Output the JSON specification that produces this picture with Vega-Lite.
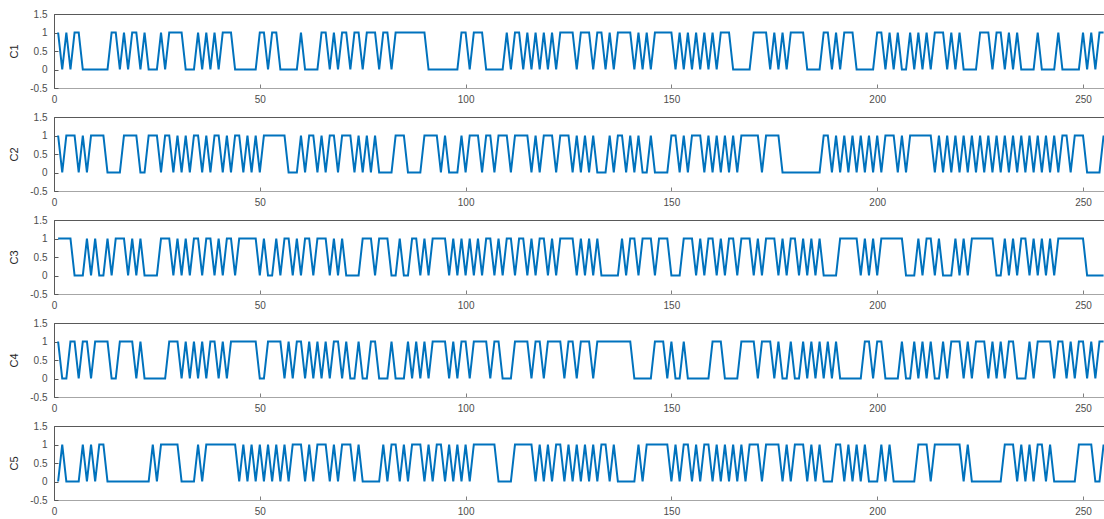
{
"$schema":"https://vega.github.io/schema/vega-lite/v6.json",
"padding":{"left":8,"top":8,"right":0,"bottom":3},
"background":"white",
"bounds":"flush",
"spacing":29,
"config":{"view":{"stroke":"#595959","strokeWidth":1},"axis":{"labelFont":"Liberation Sans","titleFont":"Liberation Sans","grid":false,"labelFontSize":10,"labelColor":"#4d4d4d","titleFontWeight":"normal","titleFontSize":11,"titleColor":"#262626"}},
"data":{"values":[
{"x":1,"C1":1,"C2":1,"C3":1,"C4":1,"C5":0},
{"x":2,"C1":0,"C2":0,"C3":1,"C4":0,"C5":1},
{"x":3,"C1":1,"C2":1,"C3":1,"C4":0,"C5":0},
{"x":4,"C1":0,"C2":1,"C3":1,"C4":1,"C5":0},
{"x":5,"C1":1,"C2":1,"C3":0,"C4":1,"C5":0},
{"x":6,"C1":1,"C2":0,"C3":0,"C4":0,"C5":0},
{"x":7,"C1":0,"C2":1,"C3":0,"C4":1,"C5":1},
{"x":8,"C1":0,"C2":0,"C3":1,"C4":1,"C5":0},
{"x":9,"C1":0,"C2":1,"C3":0,"C4":0,"C5":1},
{"x":10,"C1":0,"C2":1,"C3":1,"C4":1,"C5":0},
{"x":11,"C1":0,"C2":1,"C3":0,"C4":1,"C5":1},
{"x":12,"C1":0,"C2":1,"C3":0,"C4":1,"C5":1},
{"x":13,"C1":0,"C2":0,"C3":1,"C4":1,"C5":0},
{"x":14,"C1":1,"C2":0,"C3":0,"C4":0,"C5":0},
{"x":15,"C1":1,"C2":0,"C3":1,"C4":0,"C5":0},
{"x":16,"C1":0,"C2":0,"C3":1,"C4":1,"C5":0},
{"x":17,"C1":1,"C2":1,"C3":1,"C4":1,"C5":0},
{"x":18,"C1":0,"C2":1,"C3":0,"C4":1,"C5":0},
{"x":19,"C1":1,"C2":1,"C3":1,"C4":1,"C5":0},
{"x":20,"C1":1,"C2":1,"C3":0,"C4":0,"C5":0},
{"x":21,"C1":0,"C2":0,"C3":1,"C4":1,"C5":0},
{"x":22,"C1":1,"C2":0,"C3":0,"C4":0,"C5":0},
{"x":23,"C1":0,"C2":1,"C3":0,"C4":0,"C5":0},
{"x":24,"C1":0,"C2":1,"C3":0,"C4":0,"C5":1},
{"x":25,"C1":0,"C2":1,"C3":0,"C4":0,"C5":0},
{"x":26,"C1":1,"C2":0,"C3":1,"C4":0,"C5":1},
{"x":27,"C1":0,"C2":1,"C3":1,"C4":0,"C5":1},
{"x":28,"C1":1,"C2":1,"C3":1,"C4":1,"C5":1},
{"x":29,"C1":1,"C2":0,"C3":0,"C4":1,"C5":1},
{"x":30,"C1":1,"C2":1,"C3":1,"C4":1,"C5":1},
{"x":31,"C1":1,"C2":0,"C3":0,"C4":0,"C5":0},
{"x":32,"C1":0,"C2":1,"C3":1,"C4":1,"C5":0},
{"x":33,"C1":0,"C2":0,"C3":0,"C4":0,"C5":0},
{"x":34,"C1":0,"C2":1,"C3":1,"C4":1,"C5":0},
{"x":35,"C1":1,"C2":1,"C3":1,"C4":0,"C5":1},
{"x":36,"C1":0,"C2":0,"C3":0,"C4":1,"C5":0},
{"x":37,"C1":1,"C2":1,"C3":1,"C4":0,"C5":1},
{"x":38,"C1":0,"C2":0,"C3":1,"C4":1,"C5":1},
{"x":39,"C1":1,"C2":1,"C3":0,"C4":1,"C5":1},
{"x":40,"C1":0,"C2":1,"C3":1,"C4":0,"C5":1},
{"x":41,"C1":1,"C2":0,"C3":0,"C4":1,"C5":1},
{"x":42,"C1":1,"C2":1,"C3":1,"C4":0,"C5":1},
{"x":43,"C1":1,"C2":0,"C3":1,"C4":1,"C5":1},
{"x":44,"C1":0,"C2":1,"C3":0,"C4":1,"C5":1},
{"x":45,"C1":0,"C2":1,"C3":1,"C4":1,"C5":0},
{"x":46,"C1":0,"C2":0,"C3":1,"C4":1,"C5":1},
{"x":47,"C1":0,"C2":1,"C3":1,"C4":1,"C5":0},
{"x":48,"C1":0,"C2":0,"C3":1,"C4":1,"C5":1},
{"x":49,"C1":0,"C2":1,"C3":1,"C4":1,"C5":0},
{"x":50,"C1":1,"C2":0,"C3":0,"C4":0,"C5":1},
{"x":51,"C1":1,"C2":1,"C3":1,"C4":0,"C5":0},
{"x":52,"C1":0,"C2":1,"C3":0,"C4":1,"C5":1},
{"x":53,"C1":1,"C2":1,"C3":0,"C4":1,"C5":0},
{"x":54,"C1":1,"C2":1,"C3":1,"C4":1,"C5":1},
{"x":55,"C1":0,"C2":1,"C3":0,"C4":1,"C5":0},
{"x":56,"C1":0,"C2":1,"C3":1,"C4":0,"C5":1},
{"x":57,"C1":0,"C2":0,"C3":1,"C4":1,"C5":0},
{"x":58,"C1":0,"C2":0,"C3":0,"C4":0,"C5":1},
{"x":59,"C1":0,"C2":0,"C3":1,"C4":1,"C5":1},
{"x":60,"C1":1,"C2":1,"C3":0,"C4":1,"C5":1},
{"x":61,"C1":0,"C2":0,"C3":1,"C4":0,"C5":0},
{"x":62,"C1":0,"C2":1,"C3":1,"C4":1,"C5":1},
{"x":63,"C1":0,"C2":1,"C3":0,"C4":0,"C5":0},
{"x":64,"C1":0,"C2":0,"C3":1,"C4":1,"C5":1},
{"x":65,"C1":1,"C2":1,"C3":1,"C4":0,"C5":1},
{"x":66,"C1":1,"C2":0,"C3":1,"C4":1,"C5":1},
{"x":67,"C1":0,"C2":1,"C3":0,"C4":0,"C5":0},
{"x":68,"C1":1,"C2":1,"C3":1,"C4":1,"C5":1},
{"x":69,"C1":0,"C2":0,"C3":0,"C4":1,"C5":0},
{"x":70,"C1":1,"C2":1,"C3":1,"C4":0,"C5":1},
{"x":71,"C1":1,"C2":1,"C3":0,"C4":1,"C5":1},
{"x":72,"C1":0,"C2":1,"C3":0,"C4":0,"C5":1},
{"x":73,"C1":1,"C2":0,"C3":0,"C4":0,"C5":0},
{"x":74,"C1":1,"C2":1,"C3":0,"C4":1,"C5":1},
{"x":75,"C1":0,"C2":0,"C3":1,"C4":0,"C5":0},
{"x":76,"C1":1,"C2":1,"C3":1,"C4":0,"C5":0},
{"x":77,"C1":1,"C2":0,"C3":1,"C4":1,"C5":0},
{"x":78,"C1":1,"C2":1,"C3":0,"C4":1,"C5":0},
{"x":79,"C1":0,"C2":0,"C3":1,"C4":0,"C5":0},
{"x":80,"C1":1,"C2":0,"C3":1,"C4":0,"C5":1},
{"x":81,"C1":1,"C2":0,"C3":1,"C4":0,"C5":0},
{"x":82,"C1":0,"C2":0,"C3":0,"C4":1,"C5":1},
{"x":83,"C1":1,"C2":1,"C3":0,"C4":0,"C5":1},
{"x":84,"C1":1,"C2":1,"C3":1,"C4":0,"C5":0},
{"x":85,"C1":1,"C2":1,"C3":0,"C4":0,"C5":1},
{"x":86,"C1":1,"C2":0,"C3":0,"C4":1,"C5":0},
{"x":87,"C1":1,"C2":0,"C3":1,"C4":0,"C5":1},
{"x":88,"C1":1,"C2":0,"C3":1,"C4":1,"C5":1},
{"x":89,"C1":1,"C2":0,"C3":0,"C4":0,"C5":1},
{"x":90,"C1":1,"C2":1,"C3":1,"C4":1,"C5":0},
{"x":91,"C1":0,"C2":1,"C3":0,"C4":0,"C5":1},
{"x":92,"C1":0,"C2":1,"C3":1,"C4":1,"C5":0},
{"x":93,"C1":0,"C2":1,"C3":1,"C4":1,"C5":1},
{"x":94,"C1":0,"C2":0,"C3":1,"C4":1,"C5":1},
{"x":95,"C1":0,"C2":1,"C3":1,"C4":1,"C5":0},
{"x":96,"C1":0,"C2":0,"C3":0,"C4":0,"C5":1},
{"x":97,"C1":0,"C2":0,"C3":1,"C4":1,"C5":0},
{"x":98,"C1":0,"C2":0,"C3":0,"C4":0,"C5":1},
{"x":99,"C1":1,"C2":1,"C3":1,"C4":1,"C5":0},
{"x":100,"C1":1,"C2":0,"C3":0,"C4":1,"C5":1},
{"x":101,"C1":0,"C2":1,"C3":1,"C4":0,"C5":0},
{"x":102,"C1":1,"C2":1,"C3":0,"C4":1,"C5":1},
{"x":103,"C1":1,"C2":1,"C3":1,"C4":1,"C5":1},
{"x":104,"C1":1,"C2":0,"C3":0,"C4":1,"C5":1},
{"x":105,"C1":0,"C2":1,"C3":1,"C4":1,"C5":1},
{"x":106,"C1":0,"C2":1,"C3":1,"C4":0,"C5":1},
{"x":107,"C1":0,"C2":0,"C3":0,"C4":1,"C5":1},
{"x":108,"C1":0,"C2":1,"C3":1,"C4":1,"C5":0},
{"x":109,"C1":0,"C2":1,"C3":0,"C4":0,"C5":0},
{"x":110,"C1":1,"C2":1,"C3":1,"C4":0,"C5":0},
{"x":111,"C1":0,"C2":0,"C3":1,"C4":0,"C5":0},
{"x":112,"C1":1,"C2":1,"C3":0,"C4":1,"C5":1},
{"x":113,"C1":1,"C2":1,"C3":1,"C4":1,"C5":1},
{"x":114,"C1":0,"C2":1,"C3":1,"C4":1,"C5":1},
{"x":115,"C1":1,"C2":1,"C3":0,"C4":1,"C5":1},
{"x":116,"C1":0,"C2":0,"C3":1,"C4":0,"C5":1},
{"x":117,"C1":1,"C2":1,"C3":0,"C4":1,"C5":0},
{"x":118,"C1":0,"C2":0,"C3":1,"C4":1,"C5":1},
{"x":119,"C1":1,"C2":1,"C3":1,"C4":0,"C5":0},
{"x":120,"C1":0,"C2":1,"C3":0,"C4":1,"C5":1},
{"x":121,"C1":1,"C2":1,"C3":1,"C4":1,"C5":0},
{"x":122,"C1":0,"C2":0,"C3":0,"C4":1,"C5":1},
{"x":123,"C1":1,"C2":1,"C3":1,"C4":1,"C5":1},
{"x":124,"C1":1,"C2":1,"C3":1,"C4":0,"C5":0},
{"x":125,"C1":1,"C2":1,"C3":1,"C4":1,"C5":1},
{"x":126,"C1":1,"C2":0,"C3":1,"C4":1,"C5":0},
{"x":127,"C1":0,"C2":1,"C3":0,"C4":0,"C5":1},
{"x":128,"C1":1,"C2":0,"C3":1,"C4":1,"C5":0},
{"x":129,"C1":1,"C2":1,"C3":0,"C4":1,"C5":1},
{"x":130,"C1":1,"C2":0,"C3":1,"C4":1,"C5":0},
{"x":131,"C1":0,"C2":1,"C3":0,"C4":0,"C5":1},
{"x":132,"C1":1,"C2":0,"C3":1,"C4":1,"C5":0},
{"x":133,"C1":1,"C2":0,"C3":0,"C4":1,"C5":1},
{"x":134,"C1":0,"C2":0,"C3":0,"C4":1,"C5":1},
{"x":135,"C1":1,"C2":1,"C3":0,"C4":1,"C5":0},
{"x":136,"C1":0,"C2":0,"C3":0,"C4":1,"C5":1},
{"x":137,"C1":1,"C2":1,"C3":0,"C4":1,"C5":0},
{"x":138,"C1":1,"C2":1,"C3":1,"C4":1,"C5":0},
{"x":139,"C1":1,"C2":0,"C3":0,"C4":1,"C5":0},
{"x":140,"C1":1,"C2":1,"C3":1,"C4":1,"C5":0},
{"x":141,"C1":0,"C2":0,"C3":1,"C4":0,"C5":0},
{"x":142,"C1":1,"C2":1,"C3":0,"C4":0,"C5":1},
{"x":143,"C1":0,"C2":0,"C3":1,"C4":0,"C5":0},
{"x":144,"C1":1,"C2":0,"C3":1,"C4":0,"C5":1},
{"x":145,"C1":0,"C2":1,"C3":1,"C4":0,"C5":1},
{"x":146,"C1":1,"C2":0,"C3":0,"C4":1,"C5":1},
{"x":147,"C1":1,"C2":0,"C3":1,"C4":1,"C5":1},
{"x":148,"C1":1,"C2":0,"C3":1,"C4":1,"C5":1},
{"x":149,"C1":1,"C2":0,"C3":1,"C4":0,"C5":1},
{"x":150,"C1":1,"C2":1,"C3":0,"C4":1,"C5":0},
{"x":151,"C1":0,"C2":1,"C3":0,"C4":0,"C5":1},
{"x":152,"C1":1,"C2":0,"C3":0,"C4":0,"C5":0},
{"x":153,"C1":0,"C2":1,"C3":1,"C4":1,"C5":1},
{"x":154,"C1":1,"C2":0,"C3":1,"C4":0,"C5":1},
{"x":155,"C1":0,"C2":1,"C3":1,"C4":0,"C5":0},
{"x":156,"C1":1,"C2":1,"C3":0,"C4":0,"C5":1},
{"x":157,"C1":0,"C2":1,"C3":1,"C4":0,"C5":0},
{"x":158,"C1":1,"C2":0,"C3":0,"C4":0,"C5":1},
{"x":159,"C1":0,"C2":1,"C3":1,"C4":0,"C5":1},
{"x":160,"C1":1,"C2":0,"C3":1,"C4":1,"C5":0},
{"x":161,"C1":0,"C2":1,"C3":0,"C4":1,"C5":1},
{"x":162,"C1":1,"C2":0,"C3":1,"C4":1,"C5":0},
{"x":163,"C1":1,"C2":1,"C3":0,"C4":0,"C5":1},
{"x":164,"C1":1,"C2":0,"C3":1,"C4":0,"C5":0},
{"x":165,"C1":0,"C2":1,"C3":1,"C4":0,"C5":1},
{"x":166,"C1":0,"C2":0,"C3":0,"C4":0,"C5":0},
{"x":167,"C1":0,"C2":1,"C3":1,"C4":1,"C5":1},
{"x":168,"C1":0,"C2":1,"C3":1,"C4":1,"C5":0},
{"x":169,"C1":0,"C2":1,"C3":1,"C4":1,"C5":1},
{"x":170,"C1":1,"C2":1,"C3":0,"C4":1,"C5":1},
{"x":171,"C1":1,"C2":1,"C3":1,"C4":0,"C5":1},
{"x":172,"C1":1,"C2":0,"C3":0,"C4":1,"C5":0},
{"x":173,"C1":1,"C2":1,"C3":1,"C4":1,"C5":1},
{"x":174,"C1":0,"C2":1,"C3":1,"C4":1,"C5":1},
{"x":175,"C1":1,"C2":1,"C3":1,"C4":0,"C5":1},
{"x":176,"C1":0,"C2":1,"C3":0,"C4":1,"C5":1},
{"x":177,"C1":1,"C2":0,"C3":1,"C4":0,"C5":0},
{"x":178,"C1":0,"C2":0,"C3":0,"C4":0,"C5":1},
{"x":179,"C1":1,"C2":0,"C3":1,"C4":1,"C5":0},
{"x":180,"C1":1,"C2":0,"C3":1,"C4":0,"C5":1},
{"x":181,"C1":1,"C2":0,"C3":0,"C4":0,"C5":1},
{"x":182,"C1":1,"C2":0,"C3":1,"C4":1,"C5":1},
{"x":183,"C1":0,"C2":0,"C3":0,"C4":0,"C5":0},
{"x":184,"C1":0,"C2":0,"C3":1,"C4":1,"C5":1},
{"x":185,"C1":0,"C2":0,"C3":0,"C4":0,"C5":0},
{"x":186,"C1":0,"C2":0,"C3":1,"C4":1,"C5":1},
{"x":187,"C1":1,"C2":1,"C3":0,"C4":0,"C5":0},
{"x":188,"C1":1,"C2":1,"C3":0,"C4":1,"C5":0},
{"x":189,"C1":0,"C2":0,"C3":0,"C4":0,"C5":0},
{"x":190,"C1":1,"C2":1,"C3":0,"C4":1,"C5":1},
{"x":191,"C1":0,"C2":0,"C3":1,"C4":0,"C5":1},
{"x":192,"C1":1,"C2":1,"C3":1,"C4":0,"C5":0},
{"x":193,"C1":1,"C2":0,"C3":1,"C4":0,"C5":1},
{"x":194,"C1":1,"C2":1,"C3":1,"C4":0,"C5":0},
{"x":195,"C1":0,"C2":0,"C3":1,"C4":0,"C5":1},
{"x":196,"C1":0,"C2":1,"C3":0,"C4":0,"C5":0},
{"x":197,"C1":0,"C2":0,"C3":1,"C4":1,"C5":1},
{"x":198,"C1":0,"C2":1,"C3":0,"C4":1,"C5":0},
{"x":199,"C1":0,"C2":0,"C3":1,"C4":0,"C5":0},
{"x":200,"C1":1,"C2":1,"C3":0,"C4":1,"C5":0},
{"x":201,"C1":1,"C2":0,"C3":1,"C4":1,"C5":1},
{"x":202,"C1":0,"C2":1,"C3":1,"C4":0,"C5":0},
{"x":203,"C1":1,"C2":1,"C3":1,"C4":0,"C5":1},
{"x":204,"C1":0,"C2":1,"C3":1,"C4":0,"C5":0},
{"x":205,"C1":1,"C2":0,"C3":1,"C4":0,"C5":0},
{"x":206,"C1":0,"C2":1,"C3":1,"C4":1,"C5":0},
{"x":207,"C1":0,"C2":0,"C3":0,"C4":0,"C5":0},
{"x":208,"C1":1,"C2":1,"C3":0,"C4":0,"C5":0},
{"x":209,"C1":0,"C2":1,"C3":0,"C4":1,"C5":0},
{"x":210,"C1":1,"C2":1,"C3":1,"C4":0,"C5":1},
{"x":211,"C1":0,"C2":1,"C3":0,"C4":1,"C5":1},
{"x":212,"C1":1,"C2":1,"C3":1,"C4":0,"C5":1},
{"x":213,"C1":0,"C2":1,"C3":1,"C4":1,"C5":0},
{"x":214,"C1":1,"C2":0,"C3":0,"C4":0,"C5":1},
{"x":215,"C1":1,"C2":1,"C3":1,"C4":0,"C5":1},
{"x":216,"C1":1,"C2":0,"C3":0,"C4":1,"C5":1},
{"x":217,"C1":0,"C2":1,"C3":0,"C4":0,"C5":1},
{"x":218,"C1":1,"C2":0,"C3":0,"C4":1,"C5":1},
{"x":219,"C1":0,"C2":1,"C3":1,"C4":1,"C5":1},
{"x":220,"C1":1,"C2":0,"C3":0,"C4":1,"C5":1},
{"x":221,"C1":0,"C2":1,"C3":1,"C4":0,"C5":0},
{"x":222,"C1":0,"C2":0,"C3":0,"C4":1,"C5":1},
{"x":223,"C1":0,"C2":1,"C3":1,"C4":0,"C5":0},
{"x":224,"C1":0,"C2":0,"C3":1,"C4":1,"C5":0},
{"x":225,"C1":1,"C2":1,"C3":1,"C4":1,"C5":0},
{"x":226,"C1":1,"C2":0,"C3":1,"C4":1,"C5":0},
{"x":227,"C1":1,"C2":1,"C3":1,"C4":0,"C5":0},
{"x":228,"C1":0,"C2":0,"C3":1,"C4":1,"C5":0},
{"x":229,"C1":1,"C2":1,"C3":0,"C4":0,"C5":0},
{"x":230,"C1":1,"C2":0,"C3":0,"C4":1,"C5":0},
{"x":231,"C1":0,"C2":1,"C3":1,"C4":0,"C5":1},
{"x":232,"C1":1,"C2":0,"C3":0,"C4":1,"C5":1},
{"x":233,"C1":0,"C2":1,"C3":1,"C4":1,"C5":1},
{"x":234,"C1":1,"C2":0,"C3":0,"C4":0,"C5":0},
{"x":235,"C1":0,"C2":1,"C3":1,"C4":0,"C5":1},
{"x":236,"C1":0,"C2":0,"C3":1,"C4":0,"C5":0},
{"x":237,"C1":0,"C2":1,"C3":0,"C4":1,"C5":1},
{"x":238,"C1":0,"C2":0,"C3":1,"C4":0,"C5":0},
{"x":239,"C1":1,"C2":1,"C3":0,"C4":1,"C5":1},
{"x":240,"C1":0,"C2":0,"C3":1,"C4":1,"C5":1},
{"x":241,"C1":0,"C2":1,"C3":0,"C4":1,"C5":0},
{"x":242,"C1":0,"C2":0,"C3":1,"C4":1,"C5":1},
{"x":243,"C1":0,"C2":1,"C3":0,"C4":0,"C5":0},
{"x":244,"C1":1,"C2":0,"C3":1,"C4":1,"C5":0},
{"x":245,"C1":0,"C2":1,"C3":1,"C4":1,"C5":0},
{"x":246,"C1":0,"C2":1,"C3":1,"C4":0,"C5":0},
{"x":247,"C1":0,"C2":0,"C3":1,"C4":1,"C5":0},
{"x":248,"C1":0,"C2":1,"C3":1,"C4":0,"C5":0},
{"x":249,"C1":0,"C2":1,"C3":1,"C4":1,"C5":1},
{"x":250,"C1":1,"C2":1,"C3":1,"C4":1,"C5":1},
{"x":251,"C1":0,"C2":0,"C3":0,"C4":0,"C5":1},
{"x":252,"C1":1,"C2":0,"C3":0,"C4":1,"C5":1},
{"x":253,"C1":0,"C2":0,"C3":0,"C4":0,"C5":0},
{"x":254,"C1":1,"C2":0,"C3":0,"C4":1,"C5":0},
{"x":255,"C1":1,"C2":1,"C3":0,"C4":1,"C5":1}
]},
"vconcat":[
{"width":1050,"height":74,"mark":{"type":"line","color":"#0072BD","strokeWidth":2},"encoding":{
  "x":{"field":"x","type":"quantitative","scale":{"domain":[0,255.1],"nice":false,"zero":false},"axis":{"values":[0,50,100,150,200,250],"title":null,"ticks":true,"tickSize":-4,"labelPadding":10,"labelOverlap":false,"labelFlush":false,"domainColor":"#a6a6a6","tickColor":"#7f7f7f"}},
  "y":{"field":"C1","type":"quantitative","scale":{"domain":[-0.5,1.5],"nice":false,"zero":false},"axis":{"values":[-0.5,0,0.5,1,1.5],"labelExpr":"datum.value < 0 ? '-0.5' : datum.value == 0 ? '0' : datum.value == 1 ? '1' : datum.label","labelOverlap":false,"labelFlush":false,"title":"C1","titlePadding":10,"ticks":true,"tickSize":-4,"labelPadding":11,"domainColor":"#595959","tickColor":"#595959"}}}},
{"width":1050,"height":74,"mark":{"type":"line","color":"#0072BD","strokeWidth":2},"encoding":{
  "x":{"field":"x","type":"quantitative","scale":{"domain":[0,255.1],"nice":false,"zero":false},"axis":{"values":[0,50,100,150,200,250],"title":null,"ticks":true,"tickSize":-4,"labelPadding":10,"labelOverlap":false,"labelFlush":false,"domainColor":"#a6a6a6","tickColor":"#7f7f7f"}},
  "y":{"field":"C2","type":"quantitative","scale":{"domain":[-0.5,1.5],"nice":false,"zero":false},"axis":{"values":[-0.5,0,0.5,1,1.5],"labelExpr":"datum.value < 0 ? '-0.5' : datum.value == 0 ? '0' : datum.value == 1 ? '1' : datum.label","labelOverlap":false,"labelFlush":false,"title":"C2","titlePadding":10,"ticks":true,"tickSize":-4,"labelPadding":11,"domainColor":"#595959","tickColor":"#595959"}}}},
{"width":1050,"height":74,"mark":{"type":"line","color":"#0072BD","strokeWidth":2},"encoding":{
  "x":{"field":"x","type":"quantitative","scale":{"domain":[0,255.1],"nice":false,"zero":false},"axis":{"values":[0,50,100,150,200,250],"title":null,"ticks":true,"tickSize":-4,"labelPadding":10,"labelOverlap":false,"labelFlush":false,"domainColor":"#a6a6a6","tickColor":"#7f7f7f"}},
  "y":{"field":"C3","type":"quantitative","scale":{"domain":[-0.5,1.5],"nice":false,"zero":false},"axis":{"values":[-0.5,0,0.5,1,1.5],"labelExpr":"datum.value < 0 ? '-0.5' : datum.value == 0 ? '0' : datum.value == 1 ? '1' : datum.label","labelOverlap":false,"labelFlush":false,"title":"C3","titlePadding":10,"ticks":true,"tickSize":-4,"labelPadding":11,"domainColor":"#595959","tickColor":"#595959"}}}},
{"width":1050,"height":74,"mark":{"type":"line","color":"#0072BD","strokeWidth":2},"encoding":{
  "x":{"field":"x","type":"quantitative","scale":{"domain":[0,255.1],"nice":false,"zero":false},"axis":{"values":[0,50,100,150,200,250],"title":null,"ticks":true,"tickSize":-4,"labelPadding":10,"labelOverlap":false,"labelFlush":false,"domainColor":"#a6a6a6","tickColor":"#7f7f7f"}},
  "y":{"field":"C4","type":"quantitative","scale":{"domain":[-0.5,1.5],"nice":false,"zero":false},"axis":{"values":[-0.5,0,0.5,1,1.5],"labelExpr":"datum.value < 0 ? '-0.5' : datum.value == 0 ? '0' : datum.value == 1 ? '1' : datum.label","labelOverlap":false,"labelFlush":false,"title":"C4","titlePadding":10,"ticks":true,"tickSize":-4,"labelPadding":11,"domainColor":"#595959","tickColor":"#595959"}}}},
{"width":1050,"height":74,"mark":{"type":"line","color":"#0072BD","strokeWidth":2},"encoding":{
  "x":{"field":"x","type":"quantitative","scale":{"domain":[0,255.1],"nice":false,"zero":false},"axis":{"values":[0,50,100,150,200,250],"title":null,"ticks":true,"tickSize":-4,"labelPadding":10,"labelOverlap":false,"labelFlush":false,"domainColor":"#a6a6a6","tickColor":"#7f7f7f"}},
  "y":{"field":"C5","type":"quantitative","scale":{"domain":[-0.5,1.5],"nice":false,"zero":false},"axis":{"values":[-0.5,0,0.5,1,1.5],"labelExpr":"datum.value < 0 ? '-0.5' : datum.value == 0 ? '0' : datum.value == 1 ? '1' : datum.label","labelOverlap":false,"labelFlush":false,"title":"C5","titlePadding":10,"ticks":true,"tickSize":-4,"labelPadding":11,"domainColor":"#595959","tickColor":"#595959"}}}}
]
}
